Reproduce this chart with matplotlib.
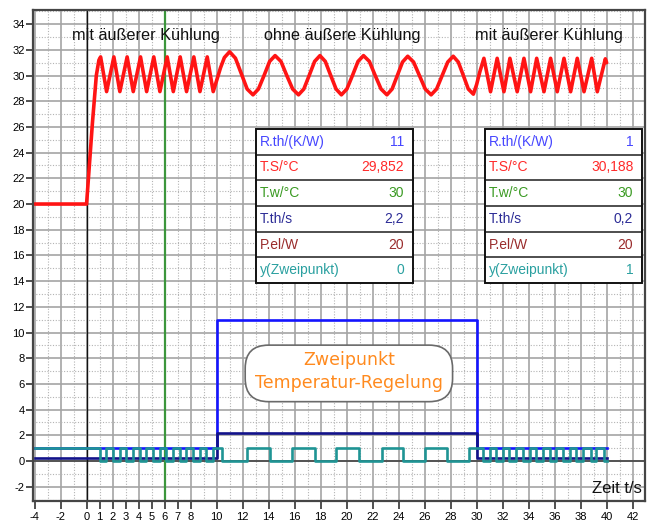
import matplotlib
matplotlib.use("Agg")
import matplotlib.pyplot as plt
from matplotlib.patches import FancyBboxPatch, Rectangle

plt.rcParams['font.family'] = ['Liberation Sans', 'DejaVu Sans']

# Temperature T.S (°C) over time t (s)
temp_t = [-4, 0, 0.45, 0.75, 0.95, 1.08,
          1.54, 2.10, 2.56, 3.12, 3.59, 4.15, 4.62, 5.17, 5.64, 6.20,
          6.67, 7.20, 7.69, 8.25, 8.72, 9.28, 9.74,
          10.0, 10.3, 10.6, 11.0,
          11.45, 11.9, 12.35, 12.8, 13.22, 13.65, 14.08, 14.5,
          14.95, 15.4, 15.85, 16.3, 16.71, 17.12, 17.54, 17.95,
          18.36, 18.78, 19.19, 19.6, 20.02, 20.45, 20.88, 21.3,
          21.75, 22.2, 22.65, 23.1, 23.5, 23.9, 24.3, 24.7,
          25.15, 25.6, 26.05, 26.5, 26.92, 27.35, 27.78, 28.2,
          28.59, 28.98, 29.36, 29.75, 30.0, 30.25,
          30.56, 31.07, 31.58, 32.10, 32.56, 33.12, 33.64, 34.15, 34.62,
          35.18, 35.69, 36.20, 36.72, 37.23, 37.74, 38.26, 38.85, 39.28,
          39.90, 40.0]
temp_v = [20, 20, 26.3, 30.0, 31.2, 31.45,
          28.75, 31.45, 28.75, 31.45, 28.75, 31.45, 28.75, 31.45, 28.75, 31.45,
          28.75, 31.45, 28.75, 31.45, 28.75, 31.45, 28.75,
          29.6, 30.6, 31.4, 31.85,
          31.35, 30.15, 28.95, 28.5, 28.95, 30.0, 31.1, 31.55,
          31.1, 30.0, 28.95, 28.5, 28.95, 30.0, 31.1, 31.55,
          31.1, 30.0, 28.95, 28.5, 28.95, 30.0, 31.1, 31.55,
          31.1, 30.0, 28.95, 28.5, 28.95, 30.0, 31.05, 31.5,
          31.05, 30.0, 28.95, 28.5, 28.95, 30.0, 31.05, 31.5,
          31.05, 30.0, 28.95, 28.55, 29.3, 30.3,
          31.34, 28.74, 31.34, 28.74, 31.34, 28.74, 31.34, 28.74, 31.34,
          28.74, 31.34, 28.74, 31.34, 28.74, 31.34, 28.74, 31.34, 28.74,
          31.3, 31.0]

# Two-point controller output y (heater on = 1)
switch_t = [-4, 1.0, 1.51, 2.03, 2.54, 3.05, 3.56, 4.08, 4.59, 5.10, 5.61,
            6.13, 6.64, 7.15, 7.66, 8.18, 8.69, 9.20, 9.72, 10.4,
            12.35, 14.1, 15.77, 17.56, 19.2, 20.97, 22.7, 24.36, 26.0, 27.7,
            29.43, 30.48, 31.0, 31.5, 32.03, 32.48, 33.05, 33.56, 34.08,
            34.54, 35.1, 35.61, 36.13, 36.64, 37.16, 37.66, 38.19, 38.77,
            39.21, 39.79, 40.0]
switch_y = [1, 0, 1, 0, 1, 0, 1, 0, 1, 0, 1,
            0, 1, 0, 1, 0, 1, 0, 1, 0,
            1, 0, 1, 0, 1, 0, 1, 0, 1, 0,
            1, 0, 1, 0, 1, 0, 1, 0, 1,
            0, 1, 0, 1, 0, 1, 0, 1, 0,
            1, 0, 0]

# Thermal resistance R.th (K/W)
rth_t = [-4, 10, 30, 40]
rth_v = [1, 11, 1, 1]

# Thermal time constant T.th (s)
tth_t = [-4, 10, 30, 40]
tth_v = [0.2, 2.2, 0.2, 0.2]

phase_labels = ["mit äußerer Kühlung", "ohne äußere Kühlung", "mit äußerer Kühlung"]
phase_x = [4.6, 19.7, 35.6]

table_labels = ["R.th/(K/W)", "T.S/°C", "T.w/°C", "T.th/s", "P.el/W", "y(Zweipunkt)"]
table_colors = ["#4646ff", "#ff2a2a", "#3a9a22", "#2c2c96", "#9a2c2c", "#2aa0a0"]
values_mid = ["11", "29,852", "30", "2,2", "20", "0"]
values_right = ["1", "30,188", "30", "0,2", "20", "1"]

x_ticks = [-4, -2, 0, 1, 2, 3, 4, 5, 6, 7, 8] + list(range(10, 43, 2))
y_ticks = list(range(-2, 35, 2))

fig = plt.figure(figsize=(6.5, 5.22), dpi=100)
ax = fig.add_axes([33 / 650, 1 - 501 / 522, 612 / 650, 491 / 522])
ax.set_xlim(-4.12, 42.95)
ax.set_ylim(-3.11, 35.1)

# grid: solid every 2 units, dotted in between
for gx in range(-4, 43):
    if gx % 2 == 0:
        ax.axvline(gx, color="#a4a4a4", lw=1.2, zorder=0.5)
    else:
        ax.axvline(gx, color="#b4b4b4", lw=0.8, ls=(0, (1, 1.5)), zorder=0.5)
for gy in range(-3, 36):
    if gy % 2 == 0:
        ax.axhline(gy, color="#a4a4a4", lw=1.2, zorder=0.5)
    else:
        ax.axhline(gy, color="#b4b4b4", lw=0.8, ls=(0, (1, 1.5)), zorder=0.5)

ax.axhline(0, color="#3a3a3a", lw=1.1, zorder=1)
ax.axvline(0, color="#111111", lw=1.0, zorder=1)
ax.axvline(6, color="#3c963c", lw=1.6, zorder=1)

# curves
ax.step(rth_t, rth_v, where="post", color="#1414ff", lw=1.9, zorder=3)
ax.step(tth_t, tth_v, where="post", color="#12128a", lw=1.9, zorder=4)
ax.step(switch_t, switch_y, where="post", color="#1f9494", lw=1.9, zorder=5)
ax.plot(temp_t, temp_v, color="#ff1414", lw=2.6, zorder=6,
        solid_joinstyle="round", solid_capstyle="round")

# phase annotations
for lab, px in zip(phase_labels, phase_x):
    ax.text(px, 32.8, lab, ha="center", va="baseline", fontsize=11.7,
            color="#111111", zorder=7)

ax.text(42.7, -2.47, "Zeit t/s", ha="right", va="baseline", fontsize=12,
        color="#111111", zorder=7)


def value_table(x0, x1, values):
    top = 25.85
    row_h = 2.0
    bottom = top - row_h * len(values)
    ax.add_patch(Rectangle((x0, bottom), x1 - x0, top - bottom,
                           facecolor="white", edgecolor="none", zorder=7))
    for i in range(1, len(values)):
        yy = top - i * row_h
        ax.plot([x0, x1], [yy, yy], color="#303030", lw=1.2, zorder=8)
    ax.add_patch(Rectangle((x0, bottom), x1 - x0, top - bottom,
                           facecolor="none", edgecolor="#111111", lw=1.4, zorder=9))
    for i, (lab, val, col) in enumerate(zip(table_labels, values, table_colors)):
        yc = top - (i + 0.5) * row_h
        ax.text(x0 + 0.3, yc, lab, ha="left", va="center", fontsize=10,
                color=col, zorder=10)
        ax.text(x1 - 0.7, yc, val, ha="right", va="center", fontsize=10,
                color=col, zorder=10)


value_table(13.0, 25.1, values_mid)
value_table(30.65, 42.75, values_right)

# title box
ax.add_patch(FancyBboxPatch((12.2, 4.62), 15.95, 4.4,
                            boxstyle="round,pad=0,rounding_size=1.8",
                            facecolor="white", edgecolor="#6a6a6a", lw=1.2,
                            zorder=7))
ax.text(20.2, 7.86, "Zweipunkt", ha="center", va="center", fontsize=12.5,
        color="#ff8a1e", family="DejaVu Sans", zorder=8)
ax.text(20.2, 6.07, "Temperatur-Regelung", ha="center", va="center",
        fontsize=12.5, color="#ff8a1e", family="DejaVu Sans", zorder=8)

ax.set_xticks(x_ticks)
ax.set_xticklabels([str(v) for v in x_ticks])
ax.set_yticks(y_ticks)
ax.set_yticklabels([str(v) for v in y_ticks])
ax.tick_params(axis="x", direction="out", length=6, width=1.1,
               color="#202020", pad=2, labelsize=8)
ax.tick_params(axis="y", direction="out", length=5, width=1.1,
               color="#202020", pad=1, labelsize=8)
for sp in ax.spines.values():
    sp.set_color("#454545")
    sp.set_linewidth(1.6)
    sp.set_zorder(11)

fig.savefig("out.png", dpi=100, facecolor="white")
